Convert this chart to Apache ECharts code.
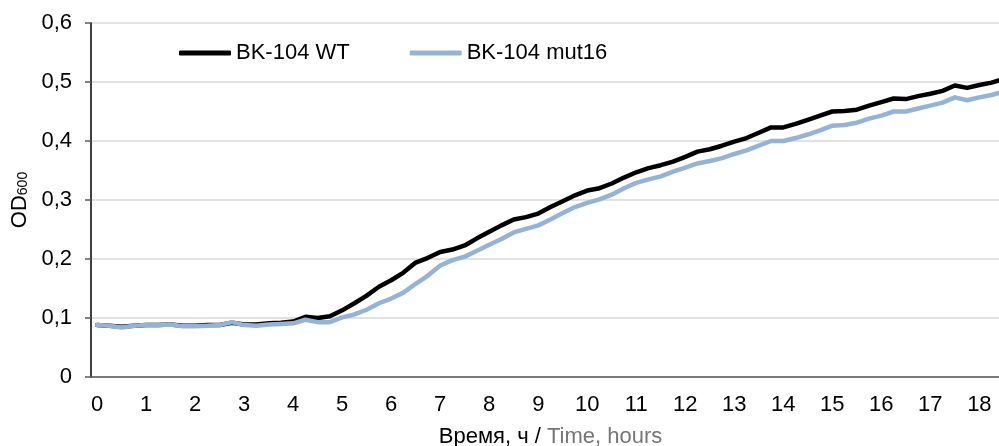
<!DOCTYPE html>
<html>
<head>
<meta charset="utf-8">
<script src="https://cdn.jsdelivr.net/npm/echarts@6/dist/echarts.min.js"></script>
<style>
  html, body { margin: 0; padding: 0; background: #fff; }
  #chart { width: 999px; height: 446px; }
</style>
</head>
<body>
<div id="chart"></div>
<script>
// time points, every 15 min
const hours = [
  0, 0.25, 0.5, 0.75, 1, 1.25, 1.5, 1.75, 2, 2.25, 2.5, 2.75, 3, 3.25, 3.5, 3.75,
  4, 4.25, 4.5, 4.75, 5, 5.25, 5.5, 5.75, 6, 6.25, 6.5, 6.75, 7, 7.25, 7.5, 7.75,
  8, 8.25, 8.5, 8.75, 9, 9.25, 9.5, 9.75, 10, 10.25, 10.5, 10.75, 11, 11.25, 11.5, 11.75,
  12, 12.25, 12.5, 12.75, 13, 13.25, 13.5, 13.75, 14, 14.25, 14.5, 14.75, 15, 15.25, 15.5, 15.75,
  16, 16.25, 16.5, 16.75, 17, 17.25, 17.5, 17.75, 18, 18.25, 18.5
]

// OD600 BK-104 WT
const wtValues = [
  0.088, 0.087, 0.085, 0.087, 0.088, 0.088, 0.089, 0.087, 0.087, 0.088, 0.088, 0.092, 0.089, 0.089, 0.091, 0.092,
  0.094, 0.102, 0.100, 0.103, 0.113, 0.125, 0.138, 0.153, 0.164, 0.177, 0.194, 0.202, 0.212, 0.216, 0.223, 0.235,
  0.246, 0.257, 0.267, 0.271, 0.277, 0.288, 0.298, 0.308, 0.316, 0.320, 0.328, 0.338, 0.347, 0.354, 0.359, 0.365,
  0.373, 0.382, 0.386, 0.392, 0.399, 0.405, 0.414, 0.423, 0.423, 0.429, 0.436, 0.443, 0.450, 0.451, 0.453, 0.460,
  0.466, 0.472, 0.471, 0.476, 0.480, 0.485, 0.494, 0.490, 0.495, 0.499, 0.505
]

// OD600 BK-104 mut16
const mutValues = [
  0.088, 0.087, 0.084, 0.087, 0.088, 0.088, 0.089, 0.086, 0.086, 0.087, 0.088, 0.093, 0.088, 0.087, 0.089, 0.090,
  0.091, 0.097, 0.093, 0.093, 0.101, 0.106, 0.114, 0.125, 0.133, 0.143, 0.158, 0.172, 0.189, 0.198, 0.204, 0.214,
  0.224, 0.234, 0.245, 0.251, 0.257, 0.267, 0.278, 0.288, 0.295, 0.301, 0.309, 0.320, 0.329, 0.335, 0.340, 0.348,
  0.355, 0.362, 0.366, 0.371, 0.378, 0.384, 0.392, 0.400, 0.400, 0.405, 0.411, 0.418, 0.426, 0.427, 0.431, 0.438,
  0.443, 0.450, 0.450, 0.455, 0.460, 0.465, 0.474, 0.469, 0.474, 0.478, 0.484
]

const seriesNames = ['BK-104 WT', 'BK-104 mut16']
const seriesColors = ['#000000', '#95B3D7']

const FONT = '"Liberation Sans", Arial, sans-serif'

const chart = echarts.init(document.getElementById('chart'), null, { renderer: 'canvas' })

const option = {
  animation: false,
  textStyle: { fontFamily: FONT },
  legend: {
    left: 174,
    top: 37,
    itemWidth: 52,
    itemHeight: 5,
    itemGap: 60,
    icon: 'roundRect',
    textStyle: { fontSize: 22, color: '#000', fontFamily: FONT },
    data: seriesNames
  },
  grid: {
    left: 91,
    top: 23,
    bottom: 69,
    width: 919,
    outerBoundsMode: 'none'
  },
  xAxis: {
    type: 'category',
    boundaryGap: true,
    data: hours.map(String),
    name: '{a|Время, ч / }{b|Time, hours}',
    nameLocation: 'middle',
    nameGap: 49,
    nameTextStyle: {
      rich: {
        a: { fontSize: 22, color: '#000', fontFamily: FONT },
        b: { fontSize: 22, color: '#767676', fontFamily: FONT }
      }
    },
    axisLine: { lineStyle: { color: '#595959', width: 1.5 } },
    axisTick: { show: false },
    axisLabel: {
      interval: 3,
      margin: 17,
      fontSize: 22,
      color: '#000',
      fontFamily: FONT
    },
    splitLine: { show: false }
  },
  yAxis: {
    type: 'value',
    min: 0,
    max: 0.6,
    interval: 0.1,
    name: '{a|OD}{b|600}',
    nameLocation: 'middle',
    nameGap: 57,
    nameTextStyle: {
      rich: {
        a: { fontSize: 22, color: '#000', fontFamily: FONT, lineHeight: 22, verticalAlign: 'top' },
        b: { fontSize: 14, color: '#000', fontFamily: FONT, lineHeight: 14, verticalAlign: 'bottom', padding: [12, 0, 0, 0] }
      }
    },
    axisLine: { show: true, lineStyle: { color: '#000', width: 1.5 } },
    axisTick: { show: true, length: 6, lineStyle: { color: '#595959', width: 1.5 } },
    axisLabel: {
      margin: 19,
      fontSize: 22,
      color: '#000',
      fontFamily: FONT,
      formatter: v => (v === 0 ? '0' : v.toFixed(1).replace('.', ','))
    },
    splitLine: { lineStyle: { color: '#d9d9d9', width: 1.5 } }
  },
  series: [
    {
      name: seriesNames[0],
      type: 'line',
      data: wtValues,
      symbol: 'none',
      color: seriesColors[0],
      lineStyle: { width: 4.5, color: seriesColors[0], join: 'round', cap: 'round' }
    },
    {
      name: seriesNames[1],
      type: 'line',
      data: mutValues,
      symbol: 'none',
      color: seriesColors[1],
      lineStyle: { width: 4.5, color: seriesColors[1], join: 'round', cap: 'round' }
    }
  ]
}

chart.setOption(option)
</script>
</body>
</html>
